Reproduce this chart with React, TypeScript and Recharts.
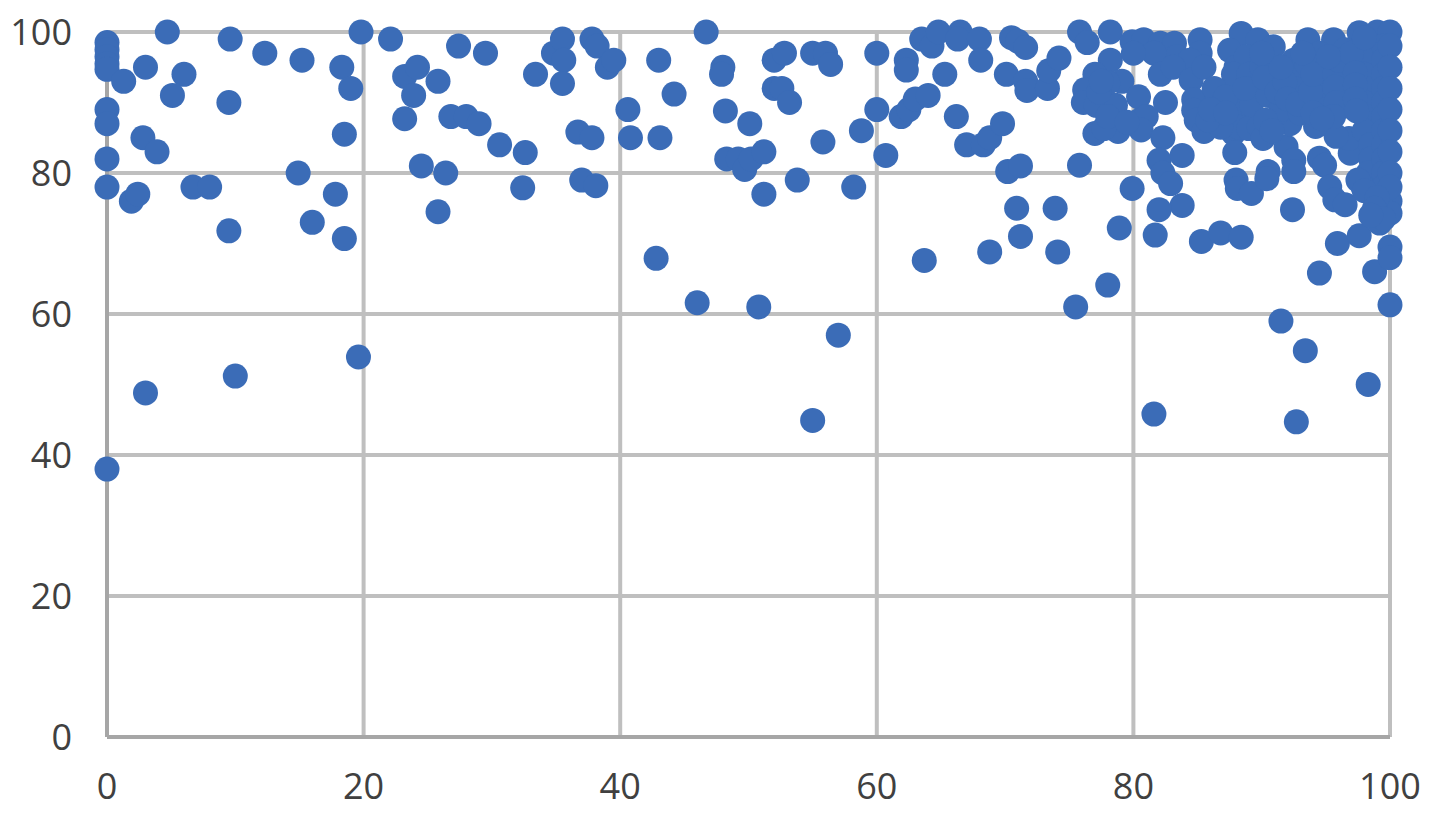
import { ScatterChart, Scatter, XAxis, YAxis, CartesianGrid } from 'recharts';

type Point = [number, number];

const xTicks = [0, 20, 40, 60, 80, 100];
const yTicks = [0, 20, 40, 60, 80, 100];

const band0to20: Point[] = [
  [0, 98.5], [0, 97.5], [0, 96.5], [0, 95.5], [0, 94.7], [0, 89], [0, 87], [0, 82], [0, 78], [0, 38],
  [1.3, 93], [3, 95], [4.7, 100], [6, 94], [5.1, 91], [9.5, 90], [9.6, 99], [12.3, 97], [15.2, 96],
  [18.3, 95], [19, 92], [18.5, 85.5], [2.8, 85], [3.9, 83], [1.9, 76], [2.4, 77], [6.7, 78], [8, 78],
  [14.9, 80], [17.8, 77], [16, 73], [18.5, 70.7], [9.5, 71.8], [3, 48.8], [10, 51.2], [19.6, 53.9], [19.8, 100],
];

const band20to40: Point[] = [
  [22.1, 99], [23.2, 93.7], [24.2, 95], [23.9, 91], [23.2, 87.7], [25.8, 93], [24.5, 81], [26.4, 80],
  [25.8, 74.5], [26.8, 88], [28, 88], [29, 87], [27.4, 98], [29.5, 97], [30.6, 84], [32.6, 82.9], [32.4, 77.9],
  [33.4, 94], [34.8, 97], [35.5, 99], [35.6, 96], [35.5, 92.7], [36.7, 85.8], [37.8, 85], [37, 79],
  [38.1, 78.2], [37.8, 99], [38.2, 98], [39, 95], [39.5, 96],
];

const band40to60: Point[] = [
  [40.6, 89], [40.8, 85], [43, 96], [43.1, 85], [44.2, 91.2], [42.8, 67.9], [46, 61.6], [46.7, 100], [48, 95],
  [47.9, 94], [48.2, 88.8], [48.3, 82], [49.2, 82], [49.7, 80.5], [50.2, 82], [50.1, 87], [51.2, 83], [51.2, 77],
  [50.8, 61], [52, 92], [52, 96], [52.8, 97], [52.6, 92], [53.2, 90], [53.8, 79], [55, 97], [56, 97], [55.8, 84.4],
  [56.4, 95.4], [58.2, 78], [57, 57], [55, 44.9], [58.8, 86],
];

const band60to75: Point[] = [
  [60, 97], [60, 89], [60.7, 82.5], [61.9, 88], [62.5, 89], [63, 90.5], [64, 91], [62.3, 96], [62.3, 94.6],
  [63.5, 99], [64.3, 98], [64.8, 100], [65.3, 94], [63.7, 67.6], [66.2, 88], [67, 84], [66.5, 100], [66.3, 99],
  [68, 99], [68.1, 96], [68.3, 84], [68.8, 85], [68.8, 68.8], [69.8, 87], [70.1, 94], [70.2, 80.2], [70.5, 99.2],
  [71, 98.7], [71.2, 81], [70.9, 75], [71.2, 71], [71.6, 93], [71.7, 91.7], [71.6, 97.8], [73.3, 92], [73.4, 94.5],
  [74.2, 96.3], [73.9, 75], [74.1, 68.8],
];

const band75to90: Point[] = [
  [75.5, 61], [75.8, 81.1], [75.8, 100], [76.4, 98.5], [78.2, 100], [78.2, 96], [77, 94], [76.2, 91.8], [76.1, 90],
  [77.1, 89.6], [78.6, 89.6], [79.1, 93], [80.4, 90.8], [82.5, 90], [80.5, 87.5], [81, 88], [78.8, 85.9], [77, 85.6],
  [77.7, 86.3], [80.6, 86.1], [82.3, 85], [82, 81.8], [83.8, 82.5], [82.3, 80], [82.9, 78.5], [79.9, 77.8], [83.8, 75.4],
  [82, 74.8], [78.9, 72.2], [81.7, 71.2], [85.3, 70.3], [86.8, 71.5], [88.4, 70.9], [78, 64.1], [81.6, 45.8],
  [79.9, 98.6], [80.8, 98.9], [82.1, 98.4], [83.2, 98.4], [85.2, 98.9], [85.2, 97], [83.4, 96.5], [84.4, 96], [81.6, 97],
  [82.1, 94], [83.1, 95], [84.5, 93.2], [85.5, 95], [80, 97], [84.7, 90.4], [84.7, 88.9], [84.9, 87.5], [85.5, 85.9],
  [86.5, 90.4], [87.3, 87], [87.8, 85.6], [87.9, 82.9], [88, 79], [88.1, 77.8], [89.2, 77.1], [88.4, 99.8], [87.5, 97.4],
  [89.7, 98.9], [88, 95], [88.5, 93], [87.6, 92], [89, 91], [88.2, 89], [89.4, 88], [86.5, 88], [88.8, 96.5], [87.8, 94],
  [78, 92.8], [77.3, 91.5], [78, 88], [79.5, 87.2], [77.5, 93], [86.3, 92], [86.8, 89.5], [87.2, 90.8], [88.2, 86.5],
  [89, 86.3], [89.8, 86.6], [89, 94], [89.8, 92.5], [89.2, 89.7], [86.8, 86.5], [85.8, 87.5], [86, 89], [88.7, 92], [87.2, 88.5],
];

const band90to100: Point[] = [
  [90.1, 84.9], [91.9, 83.7], [92.5, 81.8], [92.5, 80.2], [90.5, 80.2], [90.4, 79.2], [94.5, 82.1], [94.9, 81.1], [95.3, 78],
  [95.7, 76.2], [96.5, 75.5], [96.9, 82.8], [96.8, 84.9], [95.8, 85.2], [94.2, 86.6], [92.2, 87], [92.4, 74.8], [95.9, 70],
  [97.6, 71.1], [94.5, 65.8], [91.5, 59], [93.4, 54.8], [98.3, 50], [92.7, 44.7], [98.8, 66], [100, 69.5], [100, 68], [100, 61.3],
  [90.9, 97.9], [93.6, 98.9], [95.6, 98.9], [97.6, 99.9], [99, 100], [100, 100], [90, 95], [91, 93], [90.5, 91], [91.5, 89],
  [90.3, 87.5], [92.5, 96], [93, 94], [92.5, 92], [93.5, 90], [93, 88.5], [94.5, 97], [95, 95], [94.5, 93], [95, 91], [95, 89],
  [96.5, 97.5], [97, 95.5], [96.5, 93.5], [96.8, 91.5], [96.5, 89.5], [98, 98], [98.3, 96], [98, 94], [98.3, 92],
  [98, 90], [98.3, 88], [98, 86], [98.5, 84], [98.5, 82], [98.3, 80], [97.9, 78], [99.5, 98], [99.5, 96], [99.5, 94], [99.5, 92],
  [99.5, 90], [99.5, 88], [99.5, 86], [99.5, 84], [99.5, 82], [99.5, 80], [99.5, 78], [100, 76], [100, 74.3], [99.2, 72.9],
  [100, 98], [100, 95], [100, 92], [100, 89], [100, 86], [100, 83], [100, 80], [100, 78],
  [90.2, 93.5], [90.8, 86], [91.2, 91.5], [91.8, 92.9], [91.5, 95], [92, 90.5], [92.8, 89.8], [93.8, 91.5], [93.5, 95.5],
  [94, 94], [94, 88.5], [95.7, 94], [95.7, 92.2], [95.8, 90], [95.6, 88], [94.7, 87.7], [96, 96], [97, 97], [97.3, 94.2],
  [97.3, 92.5], [97.3, 90.5], [97.4, 88.8], [98, 99.2], [95.2, 96.5], [93.2, 97], [90, 97], [97.5, 79], [98, 77.5],
  [99, 76.5], [98.8, 75], [99.5, 73.5], [98.5, 74],
];

const points = [...band0to20, ...band20to40, ...band40to60, ...band60to75, ...band75to90, ...band90to100].map(([x, y]) => ({ x, y }));

const tickStyle = { fontSize: 36, fill: '#404040', fontFamily: 'Open Sans' };

const Dot = (props: any) => <circle cx={props.cx} cy={props.cy} r={12.5} fill="#3b6cb7" />;

export default function App() {
  return (
    <div style={{ position: 'absolute', left: 0, top: 0, width: 1436, height: 824 }}>
      <ScatterChart width={1436} height={824} margin={{ top: 32, right: 46, left: 0, bottom: 0 }}>
        <CartesianGrid stroke="#bfbfbf" strokeWidth={4} />
        <XAxis
          type="number"
          dataKey="x"
          domain={[0, 100]}
          ticks={xTicks}
          height={87}
          tickLine={false}
          tickMargin={30}
          tick={tickStyle}
          axisLine={{ stroke: '#a6a6a6', strokeWidth: 4 }}
        />
        <YAxis
          type="number"
          dataKey="y"
          domain={[0, 100]}
          ticks={yTicks}
          width={107}
          tickLine={false}
          tickMargin={29}
          tick={tickStyle}
          axisLine={{ stroke: '#a6a6a6', strokeWidth: 4 }}
        />
        <Scatter data={points} shape={Dot} isAnimationActive={false} />
      </ScatterChart>
    </div>
  );
}
